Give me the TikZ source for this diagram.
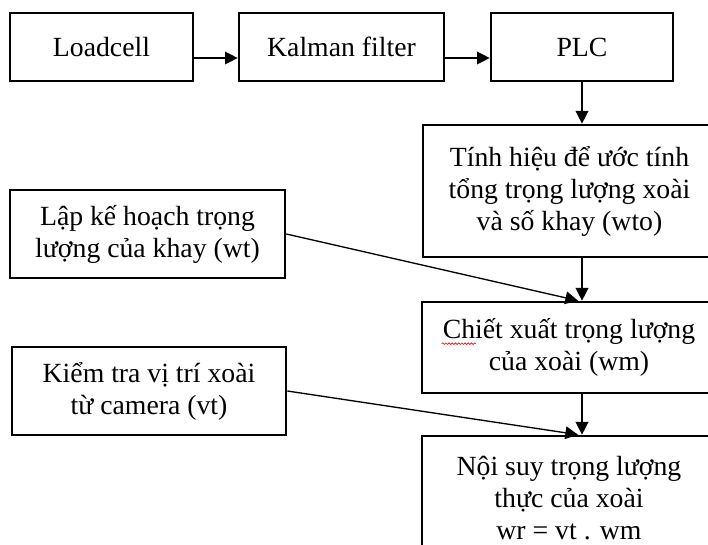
\documentclass[tikz,border=0pt]{standalone}
\usepackage{fontspec}
\setmainfont{Liberation Serif}
\usetikzlibrary{arrows.meta, positioning, calc, decorations.pathmorphing}

\tikzset{
  block/.style={draw=black, line width=2pt, fill=white, inner sep=0pt, align=center,
    font=\fontsize{20.8}{24}\selectfont},
  link/.style={line width=1pt, -{Triangle[length=9.5pt, width=9.5pt]}}
}

\begin{document}
\begin{tikzpicture}[x=0.75pt, y=-0.75pt]
  \useasboundingbox (0,0) rectangle (708,545);
  \clip (0,0) rectangle (708,545);

  \node[block, minimum width=137.25pt, minimum height=51pt] (load) at (101.5,47) {Loadcell};
  \node[block, minimum width=153.75pt, minimum height=51pt] (kalman) at (341.5,47) {Kalman filter};
  \node[block, minimum width=136.5pt, minimum height=51pt] (plc) at (582,47) {PLC};

  \node[block, minimum width=219.75pt, minimum height=99pt] (tinh) at (569.5,191)
    {Tính hiệu để ước tính\\ tổng trọng lượng xoài\\ và số khay (wto)};
  \node[block, minimum width=220.5pt, minimum height=68.25pt] (chiet) at (569,347.5)
    {Chiết xuất trọng lượng\\ của xoài (wm)};
  \node[block, minimum width=220.5pt, minimum height=93pt] (noi) at (569,498)
    {Nội suy trọng lượng\\ thực của xoài\\ wr = vt . wm};

  \node[block, minimum width=206.25pt, minimum height=66pt] (lap) at (147.5,234)
    {Lập kế hoạch trọng\\ lượng của khay (wt)};
  \node[block, minimum width=205.5pt, minimum height=66pt] (kiem) at (149,391)
    {Kiểm tra vị trí xoài\\ từ camera (vt)};

  \draw[link] ([yshift=-8.25pt]load.east) -- ([yshift=-8.25pt]kalman.west);
  \draw[link] ([yshift=-8.25pt]kalman.east) -- ([yshift=-8.25pt]plc.west);
  \draw[link] (plc.south) -- (plc.south |- tinh.north);
  \draw[link] (plc.south |- tinh.south) -- (plc.south |- chiet.north);
  \draw[link] (plc.south |- chiet.south) -- (plc.south |- noi.north);
  \draw[link] (lap.east) -- ($(plc.south |- chiet.north)+(-4,0)$);
  \draw[link] (kiem.east) -- ($(plc.south |- noi.north)+(-4,0)$);

  \draw[red, line width=0.5pt, decorate, decoration={snake, amplitude=0.6pt, segment length=2.4pt}]
    ($(chiet.north west)+(21,43)$) -- ($(chiet.north west)+(55,43)$);
\end{tikzpicture}
\end{document}
